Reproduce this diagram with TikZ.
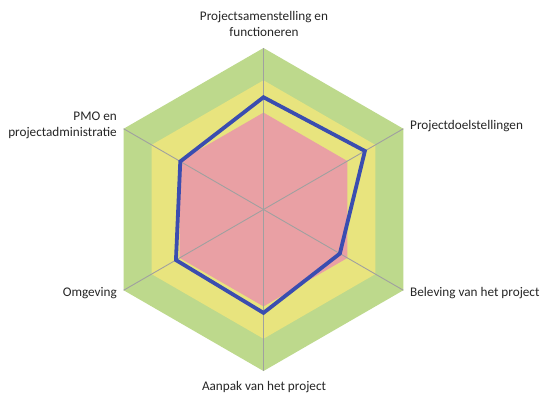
\documentclass[tikz,border=0pt]{standalone}
\usepackage{fontspec}
\setmainfont{Carlito}
\usetikzlibrary{calc}
\definecolor{ringgreen}{HTML}{BDD98C}
\definecolor{ringyellow}{HTML}{E8E47E}
\definecolor{ringpink}{HTML}{E9A0A4}
\definecolor{datablue}{HTML}{3A4DB0}
\definecolor{spokegray}{HTML}{A0A0A0}
\tikzset{
  axislabel/.style={font=\fontsize{13.2}{16}\selectfont, inner sep=0pt, text=black!85},
  spoke/.style={draw=spokegray, line width=0.9pt},
  series/.style={draw=datablue, line width=3.8pt, line join=miter}
}
\begin{document}
\begin{tikzpicture}[x=1pt,y=1pt]
\useasboundingbox (0,0) rectangle (540,394);
\fill[white] (0,0) rectangle (540,394);
\coordinate (c) at (263.5,184.5);
\def\R{161.5}
% rings
\fill[ringgreen] ($(c)+(90:\R)$) \foreach \a in {30,-30,-90,-150,150} { -- ($(c)+(\a:\R)$) } -- cycle;
\fill[ringyellow] ($(c)+(90:0.8*\R)$) \foreach \a in {30,-30,-90,-150,150} { -- ($(c)+(\a:0.8*\R)$) } -- cycle;
\fill[ringpink] ($(c)+(90:0.6*\R)$) \foreach \a in {30,-30,-90,-150,150} { -- ($(c)+(\a:0.6*\R)$) } -- cycle;
% axis ends
\coordinate (v1) at ($(c)+(90:\R)$);
\coordinate (v2) at ($(c)+(30:\R)$);
\coordinate (v3) at ($(c)+(-30:\R)$);
\coordinate (v4) at ($(c)+(-90:\R)$);
\coordinate (v5) at ($(c)+(-150:\R)$);
\coordinate (v6) at ($(c)+(150:\R)$);
\foreach \v in {v1,v2,v3,v4,v5,v6} { \draw[spoke] (c) -- (\v); }
% data series
\coordinate (d1) at ($(c)+(90:0.695*\R)$);
\coordinate (d2) at ($(c)+(30:0.725*\R)$);
\coordinate (d3) at ($(c)+(-30:0.546*\R)$);
\coordinate (d4) at ($(c)+(-90:0.64*\R)$);
\coordinate (d5) at ($(c)+(-150:0.626*\R)$);
\coordinate (d6) at ($(c)+(150:0.595*\R)$);
\draw[series] (d1) -- (d2) -- (d3) -- (d4) -- (d5) -- (d6) -- cycle;
% labels
\node[axislabel, align=center] (l1) at (264,370) {Projectsamenstelling en\\functioneren};
\node[axislabel, anchor=west] (l2) at (410,268.3) {Projectdoelstellingen};
\node[axislabel, anchor=west] (l3) at (410,100.7) {Beleving van het project};
\node[axislabel] (l4) at (264,7.3) {Aanpak van het project};
\node[axislabel, anchor=east] (l5) at (117,101) {Omgeving};
\node[axislabel, anchor=east, align=right] (l6) at (117,269) {PMO en\\projectadministratie};
\end{tikzpicture}
\end{document}
